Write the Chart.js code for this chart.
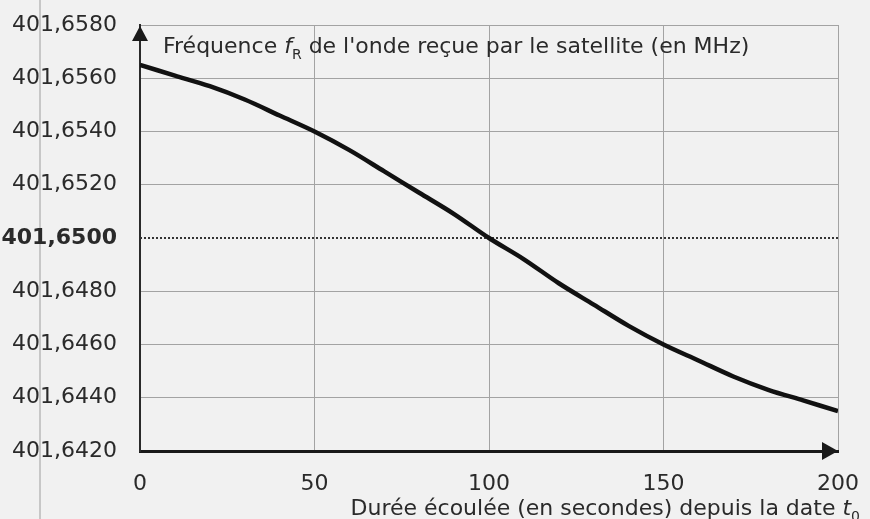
<!DOCTYPE html>
<html><head><meta charset="utf-8">
<script src="https://cdn.jsdelivr.net/npm/chart.js@4.4.0/dist/chart.umd.min.js"></script>
<style>html,body{margin:0;padding:0;background:#f1f1f1;overflow:hidden}</style>
</head><body>
<canvas id="c" width="870" height="519"></canvas>
<script>
// ---- data ----
const times = [0,10,20,30,40,50,60,70,80,90,100,110,120,130,140,150,160,170,180,190,200];
const freqMHz = [401.6565,401.6561,401.6557,401.6552,401.6546,401.6540,401.6533,401.6525,401.6517,401.6509,401.6500,
                 401.6492,401.6483,401.6475,401.6467,401.6460,401.6454,401.6448,401.6443,401.6439,401.6435];
const refLevel = 401.65;
const refTimes = [0, 200];
const xTicks = [0,50,100,150,200];
const yTicks = [401.642,401.644,401.646,401.648,401.650,401.652,401.654,401.656,401.658];
const yTitleParts = [["Fréquence ","n"],["f","i"],["R","s"],[" de l'onde reçue par le satellite (en MHz)","n"]];
const xTitleParts = [["Durée écoulée (en secondes) depuis la date ","n"],["t","i"],["0","s"]];

const FONT = "'DejaVu Sans', sans-serif";
const TXT = '#2a2a2a';

function drawParts(ctx, parts, x, y, size, align){
  const fonts = {n: size+'px '+FONT, i: 'italic '+size+'px '+FONT, s: Math.round(size*0.62)+'px '+FONT};
  let total = 0;
  for (const [t,k] of parts){ ctx.font = fonts[k]; total += ctx.measureText(t).width; }
  let cx = align === 'right' ? x - total : x;
  for (const [t,k] of parts){
    ctx.font = fonts[k];
    ctx.fillText(t, cx, k==='s' ? y + size*0.25 : y);
    cx += ctx.measureText(t).width;
  }
}

const deco = {
  id:'deco',
  beforeDraw(chart){
    const ctx = chart.ctx;
    ctx.save();
    ctx.fillStyle = '#f1f1f1';
    ctx.fillRect(0,0,chart.width,chart.height);
    ctx.strokeStyle = '#b8b8b8'; ctx.lineWidth = 1.5;
    ctx.beginPath(); ctx.moveTo(40,0); ctx.lineTo(40,chart.height); ctx.stroke();
    ctx.restore();
  },
  afterDraw(chart){
    const ctx = chart.ctx, a = chart.chartArea;
    ctx.save();
    ctx.fillStyle = '#1a1a1a';
    ctx.beginPath();
    ctx.moveTo(a.left, a.top+1); ctx.lineTo(a.left-8, a.top+16); ctx.lineTo(a.left+8, a.top+16); ctx.closePath(); ctx.fill();
    ctx.beginPath();
    ctx.moveTo(a.right, a.bottom); ctx.lineTo(a.right-16, a.bottom-9); ctx.lineTo(a.right-16, a.bottom+9); ctx.closePath(); ctx.fill();
    ctx.fillStyle = TXT; ctx.textBaseline = 'alphabetic';
    drawParts(ctx, yTitleParts, a.left+23, a.top+28, 22, 'left');
    drawParts(ctx, xTitleParts, 860, 515, 22, 'right');
    ctx.restore();
  }
};

new Chart(document.getElementById('c'), {
  type: 'scatter',
  data: {
    datasets: [
      { data: times.map((t,i)=>({x:t, y:freqMHz[i]})), showLine:true, borderColor:'#111', borderWidth:4.5,
        pointRadius:0, cubicInterpolationMode:'monotone', order:1 },
      { data: refTimes.map(t=>({x:t, y:refLevel})), showLine:true, borderColor:'#333', borderWidth:2,
        borderDash:[2,2], pointRadius:0, order:2 }
    ]
  },
  options: {
    responsive:false, animation:false, devicePixelRatio:1,
    layout:{ padding:{ left:0, right:32, top:25, bottom:0 } },
    plugins:{ legend:{display:false}, tooltip:{enabled:false} },
    scales:{
      x:{ type:'linear', min:0, max:200,
          afterBuildTicks: s => { s.ticks = xTicks.map(v=>({value:v})); },
          afterFit: s => { s.height = 68; s.paddingLeft = 0; s.paddingRight = 0; },
          grid:{ color:'#a3a3a3', lineWidth:1, drawTicks:false },
          border:{ display:true, color:'#1a1a1a', width:3 },
          ticks:{ padding:20, color:TXT, font:{family:FONT, size:22} } },
      y:{ type:'linear', min:401.642, max:401.658,
          afterBuildTicks: s => { s.ticks = yTicks.map(v=>({value:v})); },
          afterFit: s => { s.width = 140; s.paddingTop = 0; s.paddingBottom = 0; },
          grid:{ color: c => (c.tick && Math.abs(c.tick.value-refLevel)<1e-7) ? 'rgba(0,0,0,0)' : '#a3a3a3', lineWidth:1, drawTicks:false },
          border:{ display:true, color:'#2a2a2a', width:2 },
          ticks:{ padding:23, color:TXT,
                  font: c => ({family:FONT, size:22, weight: (c.tick && Math.abs(c.tick.value-refLevel)<1e-7) ? 'bold':'normal'}),
                  callback: v => Number(v).toFixed(4).replace('.', ',') } }
    }
  },
  plugins:[deco]
});
</script>
</body></html>
